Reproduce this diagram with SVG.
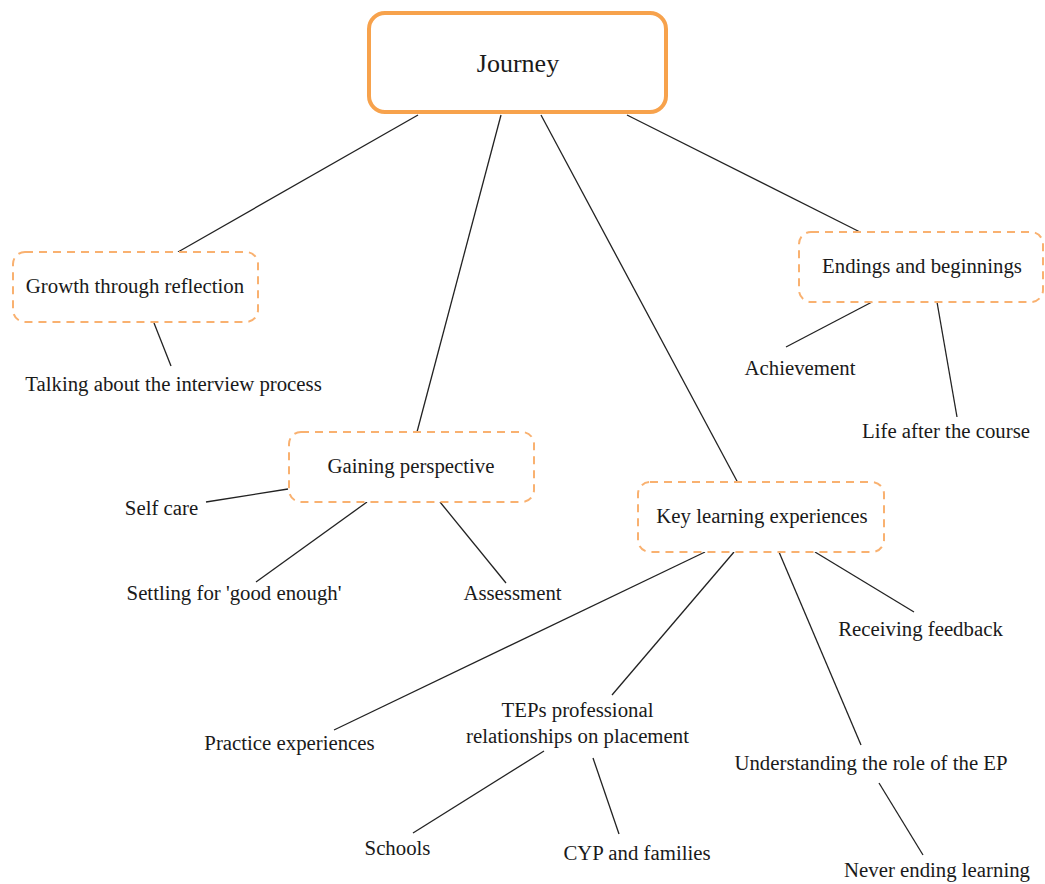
<svg xmlns="http://www.w3.org/2000/svg" width="1045" height="884" viewBox="0 0 1045 884">
  <style>
    .txt { font-size: 20.8px; fill: #1a1a1a; text-anchor: middle; }
    .root-txt { font-size: 26px; }
    .root-box { fill: #ffffff; stroke: #f7a24c; stroke-width: 4; }
    .theme-box { fill: #ffffff; stroke: #f9b170; stroke-width: 2; stroke-dasharray: 8 6; }
    .edge { stroke: #222222; stroke-width: 1.3; fill: none; }
  </style>
  <rect width="1045" height="884" fill="#ffffff"/>

  <!-- connectors -->
  <g id="connectors">
    <line class="edge" x1="418" y1="115" x2="178" y2="252"/>
    <line class="edge" x1="501" y1="115" x2="417" y2="432"/>
    <line class="edge" x1="541" y1="115" x2="738" y2="483"/>
    <line class="edge" x1="627" y1="115" x2="860" y2="232"/>
    <line class="edge" x1="154" y1="323" x2="171" y2="366"/>
    <line class="edge" x1="872" y1="302" x2="786" y2="347"/>
    <line class="edge" x1="937" y1="302" x2="957" y2="417"/>
    <line class="edge" x1="288" y1="489" x2="206" y2="502"/>
    <line class="edge" x1="367" y1="502" x2="256" y2="582"/>
    <line class="edge" x1="440" y1="502" x2="506" y2="583"/>
    <line class="edge" x1="705" y1="552" x2="334" y2="730"/>
    <line class="edge" x1="734" y1="552" x2="612" y2="695"/>
    <line class="edge" x1="779" y1="552" x2="861" y2="745"/>
    <line class="edge" x1="815" y1="552" x2="914" y2="612"/>
    <line class="edge" x1="544" y1="751" x2="413" y2="833"/>
    <line class="edge" x1="593" y1="758" x2="619" y2="834"/>
    <line class="edge" x1="879" y1="783" x2="923" y2="855"/>
  </g>

  <g font-family="Liberation Serif, serif">
  <!-- root -->
  <g id="journey">
    <rect class="root-box" x="369" y="13" width="297" height="99" rx="16"/>
    <text class="txt root-txt" x="518" y="72">Journey</text>
  </g>

  <!-- themes -->
  <g id="growth">
    <rect class="theme-box" x="13" y="252" width="245" height="70" rx="12"/>
    <text class="txt" x="135" y="293">Growth through reflection</text>
  </g>
  <g id="endings">
    <rect class="theme-box" x="799" y="232" width="244" height="70" rx="12"/>
    <text class="txt" x="922" y="273">Endings and beginnings</text>
  </g>
  <g id="gaining">
    <rect class="theme-box" x="289" y="432" width="245" height="70" rx="12"/>
    <text class="txt" x="411" y="473">Gaining perspective</text>
  </g>
  <g id="key-learning">
    <rect class="theme-box" x="638" y="482" width="246" height="70" rx="12"/>
    <text class="txt" x="762" y="523">Key learning experiences</text>
  </g>

  <!-- subthemes -->
  <g id="talking"><text class="txt" x="173.5" y="391">Talking about the interview process</text></g>
  <g id="achievement"><text class="txt" x="800" y="375">Achievement</text></g>
  <g id="life-after"><text class="txt" x="946" y="438">Life after the course</text></g>
  <g id="self-care"><text class="txt" x="161.5" y="515">Self care</text></g>
  <g id="settling"><text class="txt" x="234" y="600">Settling for 'good enough'</text></g>
  <g id="assessment"><text class="txt" x="512.5" y="600">Assessment</text></g>
  <g id="receiving"><text class="txt" x="920.5" y="636">Receiving feedback</text></g>
  <g id="practice"><text class="txt" x="289.5" y="750">Practice experiences</text></g>
  <g id="teps">
    <text class="txt" x="577.5" y="717">TEPs professional</text>
    <text class="txt" x="577.5" y="743">relationships on placement</text>
  </g>
  <g id="understanding"><text class="txt" x="871" y="770">Understanding the role of the EP</text></g>
  <g id="schools"><text class="txt" x="397.5" y="855">Schools</text></g>
  <g id="cyp"><text class="txt" x="637" y="860">CYP and families</text></g>
  <g id="never-ending"><text class="txt" x="937" y="877">Never ending learning</text></g>
  </g>
</svg>
